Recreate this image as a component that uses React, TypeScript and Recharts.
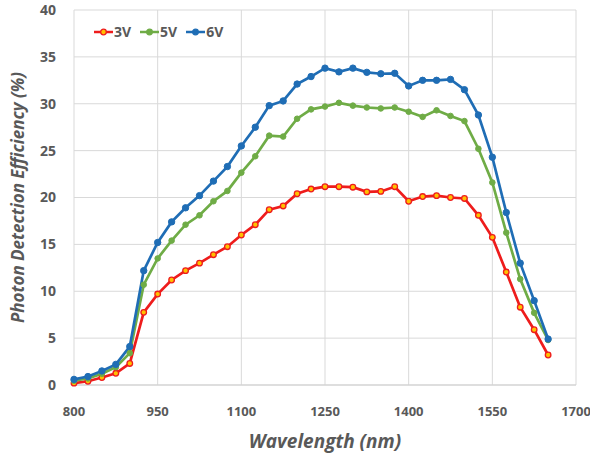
import React from "react";
import { LineChart, Line, XAxis, YAxis, CartesianGrid, Label } from "recharts";

const wavelengths = [800, 825, 850, 875, 900, 925, 950, 975, 1000, 1025, 1050, 1075, 1100, 1125, 1150, 1175, 1200, 1225, 1250, 1275, 1300, 1325, 1350, 1375, 1400, 1425, 1450, 1475, 1500, 1525, 1550, 1575, 1600, 1625, 1650];
const v3 = [0.2, 0.4, 0.8, 1.25, 2.3, 7.75, 9.7, 11.2, 12.2, 13.0, 13.9, 14.75, 16.0, 17.1, 18.7, 19.1, 20.4, 20.9, 21.15, 21.15, 21.1, 20.6, 20.65, 21.15, 19.6, 20.1, 20.2, 20.0, 19.9, 18.1, 15.75, 12.05, 8.3, 5.9, 3.2];
const v5 = [0.45, 0.7, 1.2, 1.9, 3.4, 10.7, 13.5, 15.4, 17.1, 18.1, 19.6, 20.7, 22.65, 24.4, 26.6, 26.5, 28.4, 29.4, 29.7, 30.1, 29.8, 29.6, 29.5, 29.6, 29.15, 28.6, 29.3, 28.7, 28.15, 25.2, 21.6, 16.25, 11.3, 7.7, 4.8];
const v6 = [0.6, 0.9, 1.5, 2.2, 4.1, 12.2, 15.2, 17.4, 18.9, 20.2, 21.75, 23.3, 25.5, 27.5, 29.8, 30.3, 32.1, 32.9, 33.8, 33.4, 33.8, 33.35, 33.2, 33.25, 31.9, 32.5, 32.5, 32.6, 31.5, 28.8, 24.3, 18.4, 13.0, 9.0, 4.9];
const xTicks = [800, 950, 1100, 1250, 1400, 1550, 1700];
const yTicks = [0, 5, 10, 15, 20, 25, 30, 35, 40];

const data = wavelengths.map((w, i) => ({ w, v3: v3[i], v5: v5[i], v6: v6[i] }));

const FONT = "'Open Sans', 'Liberation Sans', sans-serif";
const RED = "#ee1c1c";
const GREEN = "#6fac46";
const BLUE = "#1f6db5";

const legendItems = [
  { name: "3V", color: RED, fill: "#ffc000" },
  { name: "5V", color: GREEN, fill: GREEN },
  { name: "6V", color: BLUE, fill: BLUE },
];

const CustomLegend = () => (
  <div style={{ display: "flex", fontFamily: FONT, fontWeight: 700, fontSize: 14, color: "#595959", lineHeight: "16px" }}>
    {legendItems.map((it) => (
      <div key={it.name} style={{ display: "flex", alignItems: "center", marginRight: 9 }}>
        <svg width={19} height={10}>
          <line x1={0} y1={5} x2={19} y2={5} stroke={it.color} strokeWidth={2.5} />
          <circle cx={9.5} cy={5} r={2.8} fill={it.fill} stroke={it.color} strokeWidth={1.3} />
        </svg>
        <span style={{ marginLeft: 1 }}>{it.name}</span>
      </div>
    ))}
  </div>
);

export default function App() {
  return (
    <div style={{ position: "absolute", left: 0, top: 0, width: 590, height: 456, background: "#fff" }}>
      <LineChart width={590} height={456} data={data} margin={{ top: 10, right: 14, left: 0, bottom: 0 }}>
        <CartesianGrid stroke="#d9d9d9" strokeWidth={1} />
        <XAxis
          dataKey="w"
          type="number"
          domain={[800, 1700]}
          ticks={xTicks}
          height={71}
          tickLine={false}
          axisLine={{ stroke: "#d0d0d0" }}
          tickMargin={16}
          tick={{ fill: "#595959", fontSize: 13, fontWeight: 700, fontFamily: FONT }}
        >
          <Label
            value="Wavelength (nm)"
            position="insideBottom"
            offset={8}
            style={{ fill: "#595959", fontSize: 19, fontWeight: 700, fontStyle: "italic", fontFamily: FONT }}
          />
        </XAxis>
        <YAxis
          type="number"
          domain={[0, 40]}
          ticks={yTicks}
          width={74}
          tickLine={false}
          axisLine={false}
          tickMargin={12}
          tick={{ fill: "#595959", fontSize: 14, fontWeight: 700, fontFamily: FONT }}
        >
          <Label
            value="Photon Detection Efficiency (%)"
            angle={-90}
            position="insideLeft"
            offset={18}
            style={{ textAnchor: "middle", fill: "#595959", fontSize: 17, fontWeight: 700, fontStyle: "italic", fontFamily: FONT }}
          />
        </YAxis>
        <Line
          dataKey="v3"
          name="3V"
          stroke={RED}
          strokeWidth={2.7}
          dot={{ r: 2.8, fill: "#ffc000", stroke: RED, strokeWidth: 1.3 }}
          isAnimationActive={false}
        />
        <Line
          dataKey="v5"
          name="5V"
          stroke={GREEN}
          strokeWidth={2.7}
          dot={{ r: 2.8, fill: GREEN, stroke: GREEN, strokeWidth: 1 }}
          isAnimationActive={false}
        />
        <Line
          dataKey="v6"
          name="6V"
          stroke={BLUE}
          strokeWidth={2.7}
          dot={{ r: 3.2, fill: BLUE, stroke: BLUE, strokeWidth: 1 }}
          isAnimationActive={false}
        />
      </LineChart>
      <div style={{ position: "absolute", left: 94, top: 24 }}>
        <CustomLegend />
      </div>
    </div>
  );
}
